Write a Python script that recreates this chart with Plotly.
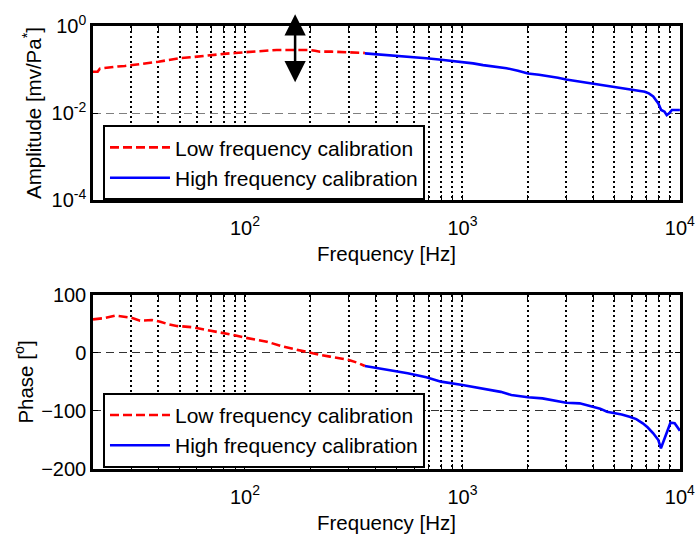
import numpy as np
import plotly.graph_objects as go

# ---------------- data ----------------
# Amplitude, low-frequency calibration (red dashed)
amp_low_f = [20, 21, 21.5, 23, 26, 28, 32, 36, 40, 45, 50, 56, 63, 71, 80, 90, 100, 112, 126, 140, 160, 180, 199, 210, 221, 250, 280, 300, 330, 356]
amp_low_log = [-1.05, -1.05, -0.98, -0.96, -0.93, -0.92, -0.89, -0.85, -0.82, -0.78, -0.74, -0.72, -0.69, -0.67, -0.64, -0.62, -0.60, -0.59, -0.56, -0.55, -0.55, -0.55, -0.55, -0.57, -0.59, -0.59, -0.60, -0.60, -0.61, -0.62]
amp_low = [10 ** v for v in amp_low_log]

# Amplitude, high-frequency calibration (blue solid)
amp_high_f = [356, 400, 463, 520, 582, 640, 682, 780, 875, 1000, 1120, 1244, 1400, 1595, 1800, 2000, 2250, 2478, 2750, 3000, 3460, 3980, 4450, 4950, 5400, 5870, 6400, 6900, 7200, 7540, 7960, 8200, 8500, 8700, 8950, 9190, 9600, 10000]
amp_high_log = [-0.63, -0.65, -0.67, -0.68, -0.70, -0.72, -0.74, -0.77, -0.80, -0.82, -0.86, -0.90, -0.93, -0.97, -1.03, -1.09, -1.12, -1.15, -1.19, -1.23, -1.28, -1.33, -1.37, -1.41, -1.44, -1.47, -1.49, -1.51, -1.55, -1.62, -1.78, -1.93, -1.97, -2.05, -2.00, -1.93, -1.93, -1.93]
amp_high = [10 ** v for v in amp_high_log]

# Phase, low-frequency calibration (red dashed)
ph_low_f = [20, 20.4, 22.2, 25.3, 27.5, 30, 32.9, 37.3, 40.8, 44, 48.5, 57.7, 64, 71.4, 80, 88.3, 100, 126, 150, 175, 199, 220, 246, 270, 298, 330, 356]
ph_low = [58, 58.1, 59.8, 64.4, 63, 60.9, 55.7, 56.9, 54, 50, 46.6, 44.3, 41, 37.9, 34, 31, 26.4, 19.5, 10.9, 5, 0.6, -3, -6.3, -9, -11.5, -17, -22.4]

# Phase, high-frequency calibration (blue solid)
ph_high_f = [356, 410, 463, 560, 682, 797, 1000, 1150, 1326, 1500, 1678, 2000, 2333, 2650, 3000, 3460, 3980, 4300, 4620, 4950, 5400, 5870, 6300, 6750, 7100, 7540, 7960, 8180, 8400, 8590, 8800, 9050, 9460, 10000]
ph_high = [-22.4, -26, -29.3, -35, -41.9, -49.4, -55.2, -59, -62.6, -67, -72.4, -76.4, -78.2, -82, -85.7, -86.8, -92.5, -96, -101.2, -102.9, -106, -109.8, -114, -121.2, -128, -138.4, -150, -164.3, -152, -141.4, -130, -120.2, -121.2, -134]

# axis ticks
x_tickvals = [m * 10 ** e for e in (1, 2, 3) for m in range(1, 10)] + [10000]
x_tickvals = [v for v in x_tickvals if v >= 20]
x_ticktext = {100: "10<sup>2</sup>", 1000: "10<sup>3</sup>", 10000: "10<sup>4</sup>"}
amp_tickvals = [1e-4, 1e-2, 1]
amp_ticktext = ["10<sup>-4</sup>", "10<sup>-2</sup>", "10<sup>0</sup>"]
ph_tickvals = [-200, -100, 0, 100]

# double arrow in amplitude plot (frequency, log10 amplitude ends)
arrow_f = 170
arrow_top_log = 0.27
arrow_bot_log = -1.33

LOW_NAME = "Low frequency calibration"
HIGH_NAME = "High frequency calibration"

# ---------------- figure ----------------
FONT = "Arial, Liberation Sans, Helvetica, sans-serif"
red = "#ff0000"
blue = "#0000ff"

fig = go.Figure()
fig.add_trace(go.Scatter(x=amp_low_f, y=amp_low, mode="lines", name=LOW_NAME,
                         line=dict(color=red, width=2.6, dash="9px,4px"),
                         xaxis="x", yaxis="y", legend="legend"))
fig.add_trace(go.Scatter(x=amp_high_f, y=amp_high, mode="lines", name=HIGH_NAME,
                         line=dict(color=blue, width=2.6),
                         xaxis="x", yaxis="y", legend="legend"))
fig.add_trace(go.Scatter(x=ph_low_f, y=ph_low, mode="lines", name=LOW_NAME,
                         line=dict(color=red, width=2.6, dash="9px,4px"),
                         xaxis="x2", yaxis="y2", legend="legend2"))
fig.add_trace(go.Scatter(x=ph_high_f, y=ph_high, mode="lines", name=HIGH_NAME,
                         line=dict(color=blue, width=2.6),
                         xaxis="x2", yaxis="y2", legend="legend2"))

xaxis_common = dict(
    type="log", range=[np.log10(20), 4.0005],
    tickvals=x_tickvals,
    ticktext=[x_ticktext.get(v, "") for v in x_tickvals],
    ticks="inside", ticklen=5, tickwidth=1, tickcolor="black",
    showline=True, linecolor="black", linewidth=2.5, mirror="ticks",
    showgrid=True, gridcolor="black", gridwidth=2, griddash="2px,3px",
    zeroline=False, automargin=False, ticklabeloverflow="allow",
    tickfont=dict(size=20, color="black", family=FONT),
    ticklabelstandoff=8,
    title=dict(text="Frequency [Hz]", font=dict(size=20.5, color="black", family=FONT), standoff=9),
)
yaxis_common = dict(
    ticks="inside", ticklen=5, tickwidth=1, tickcolor="black",
    showline=True, linecolor="black", linewidth=2.5, mirror="ticks",
    showgrid=True, gridwidth=1, griddash="8px,5px",
    zeroline=False, automargin=False,
    tickfont=dict(size=20, color="black", family=FONT),
    ticklabelstandoff=0,
)

legend_common = dict(xanchor="left", yanchor="top", itemwidth=60,
                     bgcolor="white", bordercolor="black", borderwidth=2,
                     font=dict(size=21, color="black", family=FONT), tracegroupgap=0)

layout = dict(
    width=695, height=536,
    margin=dict(l=93, r=15, t=26, b=67, autoexpand=False),
    paper_bgcolor="white", plot_bgcolor="white",
    font=dict(family=FONT, size=20, color="black"),
    xaxis=dict(domain=[0, 1], anchor="y", **xaxis_common),
    xaxis2=dict(domain=[0, 1], anchor="y2", **xaxis_common),
    yaxis=dict(domain=[0.6072, 1], anchor="x", type="log", range=[-4, 0],
               tickvals=amp_tickvals, ticktext=amp_ticktext, gridcolor="#7f7f7f",
               title=dict(text="Amplitude [mv/Pa<sup>*</sup>]", standoff=5,
                          font=dict(size=20.5, color="black", family=FONT)),
               **yaxis_common),
    yaxis2=dict(domain=[0, 0.3928], anchor="x2", range=[-200, 100],
                tickvals=ph_tickvals, gridcolor="#333333",
                title=dict(text="Phase [<sup>o</sup>]", standoff=3,
                           font=dict(size=20.5, color="black", family=FONT)),
                **yaxis_common),
    legend=dict(x=0.017, y=0.776, **legend_common),
    legend2=dict(x=0.017, y=0.172, **legend_common),
    showlegend=True,
)
fig.update_layout(**layout)

fig.add_annotation(x=np.log10(arrow_f), y=arrow_top_log, ax=np.log10(arrow_f), ay=arrow_bot_log,
                   xref="x", yref="y", axref="x", ayref="y", text="", showarrow=True,
                   arrowhead=2, startarrowhead=2, arrowside="end+start",
                   arrowsize=1.7, startarrowsize=1.7, arrowwidth=2.5, arrowcolor="black")

fig.write_html("out.html")
